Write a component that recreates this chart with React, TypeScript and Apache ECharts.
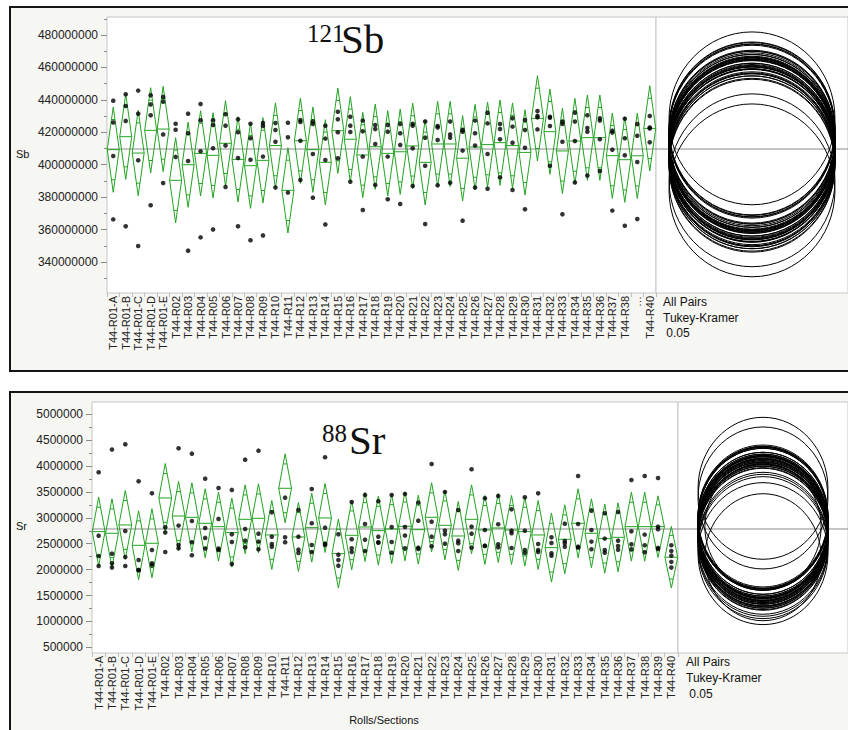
import React, { useEffect, useRef } from "react";
import * as echarts from "echarts";

// Rolls / sections on the x axis
const categories = [
  "T44-R01-A", "T44-R01-B", "T44-R01-C", "T44-R01-D", "T44-R01-E",
  "T44-R02", "T44-R03", "T44-R04", "T44-R05", "T44-R06", "T44-R07", "T44-R08", "T44-R09", "T44-R10",
  "T44-R11", "T44-R12", "T44-R13", "T44-R14", "T44-R15", "T44-R16", "T44-R17", "T44-R18", "T44-R19",
  "T44-R20", "T44-R21", "T44-R22", "T44-R23", "T44-R24", "T44-R25", "T44-R26", "T44-R27", "T44-R28",
  "T44-R29", "T44-R30", "T44-R31", "T44-R32", "T44-R33", "T44-R34", "T44-R35", "T44-R36", "T44-R37",
  "T44-R38", "T44-R39", "T44-R40",
];

// 121Sb, counts in millions
const sbMeans = [
  409.3, 417.3, 407.2, 421.2, 422.0, 390.4, 400.0, 407.0, 405.8, 413.2, 403.3, 399.4, 402.7, 411.8,
  384.2, 414.8, 409.3, 401.5, 421.0, 415.7, 406.0, 411.1, 407.0, 408.0, 411.6, 401.5, 412.8, 412.8,
  404.0, 410.9, 412.4, 413.6, 411.8, 407.6, 428.6, 420.4, 408.5, 414.6, 416.7, 416.7, 405.6, 403.1,
  405.5, 422.4,
];
const sbPoints = [
  [439.5, 426.1, 405.4, 366.3], [443.4, 436.2, 427.0, 362.0], [445.7, 431.5, 402.7, 349.9],
  [442.8, 437.2, 430.5, 375.0], [441.8, 438.9, 418.7, 388.7], [425.3, 421.6, 404.8, 309.9],
  [431.5, 419.4, 402.3, 347.0], [437.4, 427.4, 408.3, 355.2], [427.4, 424.5, 410.1, 360.1],
  [431.1, 424.1, 411.8, 386.3], [428.0, 420.0, 404.1, 362.0], [425.3, 416.3, 403.1, 353.4],
  [425.7, 423.9, 405.0, 356.4], [425.7, 421.4, 414.2, 385.9], [425.9, 416.9, 382.8, 311.0],
  [427.6, 426.4, 414.8, 390.6], [426.6, 425.1, 406.6, 379.7], [424.1, 416.1, 402.9, 363.2],
  [432.7, 428.0, 420.0, 404.0], [429.6, 424.1, 420.2, 389.5], [427.2, 420.6, 405.0, 372.1],
  [424.5, 422.0, 412.8, 387.5], [424.5, 420.4, 405.0, 378.7], [425.1, 419.4, 412.2, 375.8],
  [425.3, 424.1, 410.1, 386.9], [426.6, 416.7, 399.4, 363.4], [423.9, 423.0, 415.2, 387.3],
  [426.6, 418.7, 416.7, 388.9], [421.4, 420.4, 408.7, 365.5], [427.2, 419.4, 411.8, 385.9],
  [432.1, 425.5, 406.6, 385.2], [425.1, 422.0, 415.7, 392.2], [428.6, 423.5, 413.6, 384.4],
  [427.6, 421.4, 410.5, 372.5], [433.1, 430.1, 429.2, 421.8], [429.6, 429.0, 423.9, 399.4],
  [426.6, 425.1, 414.2, 369.4], [432.1, 426.6, 414.6, 389.1], [430.5, 422.6, 420.4, 393.3],
  [428.6, 427.2, 415.7, 396.1], [421.0, 419.8, 409.3, 371.7], [428.4, 416.3, 405.8, 362.4],
  [425.1, 417.9, 401.7, 366.5], [430.1, 422.9, 422.4, 413.8],
];
const sbGrandMean = 409.7;
const sbTicks = [340, 360, 380, 400, 420, 440, 460, 480];
const sbMinorTicks = [330, 350, 370, 390, 410, 430, 450, 470, 490];

// 88Sr, counts in millions
const srMeans = [
  2.734, 2.702, 2.863, 2.470, 2.509, 3.384, 3.036, 3.011, 2.895, 2.830, 2.715, 2.972, 2.991, 2.670,
  3.571, 2.631, 2.811, 2.998, 2.309, 2.663, 2.824, 2.753, 2.785, 2.837, 2.772, 3.011, 2.856, 2.650,
  2.972, 2.766, 2.805, 2.766, 2.734, 2.670, 2.425, 2.586, 2.895, 2.702, 2.599, 2.624, 2.830, 2.830,
  2.830, 2.240,
];
const srPoints = [
  [3.880, 2.656, 2.264, 2.071], [4.318, 2.309, 2.122, 2.039], [4.420, 2.747, 2.245, 2.071],
  [3.706, 2.187, 1.995, 1.987], [3.474, 2.380, 2.122, 2.083], [2.818, 2.715, 2.341, 5.660],
  [4.343, 2.850, 2.476, 2.412], [4.240, 2.940, 2.528, 2.277], [3.757, 2.805, 2.612, 2.406],
  [3.577, 2.979, 2.406, 2.380], [3.539, 2.682, 2.534, 2.109], [4.124, 2.785, 2.560, 2.431],
  [4.298, 2.695, 2.541, 2.393], [3.107, 2.637, 2.496, 2.440], [3.390, 2.624, 2.528, 5.740],
  [3.152, 2.637, 2.386, 2.322], [3.558, 2.895, 2.476, 2.341], [4.170, 2.811, 2.502, 2.476],
  [2.682, 2.289, 2.187, 2.077], [3.307, 2.586, 2.412, 2.341], [3.442, 2.882, 2.579, 2.360],
  [3.320, 2.637, 2.528, 2.520], [3.442, 2.824, 2.534, 2.328], [3.461, 2.824, 2.657, 2.412],
  [3.294, 2.946, 2.425, 2.399], [4.041, 2.927, 2.637, 2.451], [3.500, 2.753, 2.682, 2.502],
  [3.152, 2.560, 2.509, 2.360], [3.938, 2.830, 2.695, 2.425], [3.378, 2.766, 2.463, 2.457],
  [3.423, 2.876, 2.490, 2.431], [3.165, 2.753, 2.702, 2.418], [3.397, 2.753, 2.380, 2.322],
  [3.474, 2.496, 2.380, 2.341], [2.624, 2.515, 2.315, 2.270], [2.888, 2.554, 2.509, 2.444],
  [3.809, 2.882, 2.444, 2.425], [3.139, 2.766, 2.541, 2.393], [3.088, 2.599, 2.380, 2.328],
  [3.114, 2.560, 2.457, 2.386], [3.732, 2.740, 2.489, 2.393], [3.809, 2.676, 2.470, 2.335],
  [3.770, 2.830, 2.780, 2.420, 2.400], [2.470, 2.360, 2.270, 2.150, 2.040],
];
const srGrandMean = 2.785;
const srTicks = [0.5, 1, 1.5, 2, 2.5, 3, 3.5, 4, 4.5, 5];
const srMinorTicks = [0.75, 1.25, 1.75, 2.25, 2.75, 3.25, 3.75, 4.25, 4.75];

const testLines = ["All Pairs", "Tukey-Kramer", " 0.05"];

const MILLION = 1e6;
const GREEN = "#22a322";
const SANS = '"Liberation Sans", Arial, Helvetica, sans-serif';
const SERIF = '"Liberation Serif", "Times New Roman", serif';

type Panel = {
  means: number[];
  points: number[][];
  grandMean: number;
  ticks: number[];
  minorTicks: number[];
  yMin: number;
  yMax: number;
  ciScale: number; // pooled CI half-width for n = 1 (millions)
  circleScale: number; // Tukey-Kramer comparison radius for n = 1 (millions)
  circleAspect: number;
  main: { left: number; top: number; width: number; height: number };
  circles: { left: number; top: number; width: number; height: number };
  labelFmt: (v: string) => string;
};

const panels: Panel[] = [
  {
    means: sbMeans,
    points: sbPoints,
    grandMean: sbGrandMean,
    ticks: sbTicks,
    minorTicks: sbMinorTicks,
    yMin: 320.9,
    yMax: 491.1,
    ciScale: 52.6,
    circleScale: 106.6,
    circleAspect: 0.96,
    main: { left: 107, top: 17, width: 549, height: 276 },
    circles: { left: 656, top: 17, width: 198, height: 276 },
    labelFmt: (v) => (v === "T44-R39" ? "…" : v),
  },
  {
    means: srMeans,
    points: srPoints,
    grandMean: srGrandMean,
    ticks: srTicks,
    minorTicks: srMinorTicks,
    yMin: 0.39,
    yMax: 5.2375,
    ciScale: 1.332,
    circleScale: 2.742,
    circleAspect: 0.915,
    main: { left: 92, top: 402, width: 586, height: 251 },
    circles: { left: 678, top: 402, width: 174, height: 251 },
    labelFmt: (v) => v,
  },
];

function buildOption() {
  const grid: any[] = [];
  const xAxis: any[] = [];
  const yAxis: any[] = [];
  const series: any[] = [];

  panels.forEach((p) => {
    const gMain = grid.length;
    grid.push({ ...p.main, show: true, backgroundColor: "#ffffff", borderColor: "#c6c6c6", borderWidth: 1 });
    const gCirc = grid.length;
    grid.push({ ...p.circles, show: true, backgroundColor: "#ffffff", borderColor: "#c6c6c6", borderWidth: 1 });

    const xMain = xAxis.length;
    xAxis.push({
      type: "category",
      gridIndex: gMain,
      data: categories,
      boundaryGap: true,
      axisLine: { show: false },
      axisTick: { show: true, length: 4, lineStyle: { color: "#bcbcbc", width: 1 } },
      axisLabel: {
        interval: 0,
        rotate: 90,
        margin: 3,
        fontSize: 11,
        fontFamily: SANS,
        color: "#222",
        formatter: p.labelFmt,
      },
      splitLine: { show: false },
    });
    const xCirc = xAxis.length;
    xAxis.push({ type: "value", gridIndex: gCirc, min: 0, max: 1, show: false });

    const yRange = { min: p.yMin * MILLION, max: p.yMax * MILLION };
    const yMain = yAxis.length;
    yAxis.push({
      type: "value",
      gridIndex: gMain,
      position: "left",
      ...yRange,
      axisLine: { show: false },
      splitLine: { show: false },
      axisTick: {
        show: true,
        length: 6,
        customValues: p.ticks.map((t) => t * MILLION),
        lineStyle: { color: "#8c8c8c" },
      },
      axisLabel: {
        customValues: p.ticks.map((t) => t * MILLION),
        formatter: (v: number) => String(Math.round(v)),
        fontSize: 12,
        fontFamily: SANS,
        color: "#222",
        margin: 9,
      },
    });
    yAxis.push({
      type: "value",
      gridIndex: gMain,
      position: "left",
      ...yRange,
      axisLine: { show: false },
      splitLine: { show: false },
      axisLabel: { show: false },
      axisTick: {
        show: true,
        length: 3,
        customValues: p.minorTicks.map((t) => t * MILLION),
        lineStyle: { color: "#8c8c8c" },
      },
    });
    const yCirc = yAxis.length;
    yAxis.push({ type: "value", gridIndex: gCirc, ...yRange, show: false });

    const counts = p.points.map((pts) => pts.length);

    // grand mean reference line across both plot frames
    [
      [xMain, yMain],
      [xCirc, yCirc],
    ].forEach(([xi, yi]) => {
      series.push({
        type: "custom",
        xAxisIndex: xi,
        yAxisIndex: yi,
        silent: true,
        z: 1,
        data: [[0, p.grandMean * MILLION]],
        renderItem: (params: any, api: any) => {
          const cs = params.coordSys;
          const y = api.coord([0, api.value(1)])[1];
          return {
            type: "line",
            shape: { x1: cs.x, y1: y, x2: cs.x + cs.width, y2: y },
            style: { stroke: "#8a8a8a", lineWidth: 1 },
          };
        },
      });
    });

    // means diamonds with overlap marks
    series.push({
      type: "custom",
      xAxisIndex: xMain,
      yAxisIndex: yMain,
      silent: true,
      z: 2,
      data: p.means.map((m, i) => [i, m * MILLION, (p.ciScale / Math.sqrt(counts[i])) * MILLION]),
      renderItem: (_params: any, api: any) => {
        const i = api.value(0);
        const m = api.value(1);
        const h = api.value(2);
        const c = api.coord([i, m]);
        const top = api.coord([i, m + h])[1];
        const bot = api.coord([i, m - h])[1];
        const hw = api.size([1, 0])[0] * 0.48;
        const d = (c[1] - top) / Math.SQRT2;
        const ow = hw * (1 - 1 / Math.SQRT2);
        const st = { stroke: GREEN, lineWidth: 1, fill: "none" };
        return {
          type: "group",
          children: [
            {
              type: "polygon",
              shape: { points: [[c[0], top], [c[0] + hw, c[1]], [c[0], bot], [c[0] - hw, c[1]]] },
              style: st,
            },
            { type: "line", shape: { x1: c[0] - hw, y1: c[1], x2: c[0] + hw, y2: c[1] }, style: st },
            { type: "line", shape: { x1: c[0] - ow, y1: c[1] - d, x2: c[0] + ow, y2: c[1] - d }, style: st },
            { type: "line", shape: { x1: c[0] - ow, y1: c[1] + d, x2: c[0] + ow, y2: c[1] + d }, style: st },
          ],
        };
      },
    });

    // individual measurements
    const pts: number[][] = [];
    p.points.forEach((arr, i) => arr.forEach((v) => pts.push([i, v * MILLION])));
    series.push({
      type: "scatter",
      xAxisIndex: xMain,
      yAxisIndex: yMain,
      clip: true,
      silent: true,
      z: 3,
      symbol: "circle",
      symbolSize: 4.6,
      itemStyle: { color: "#000" },
      data: pts,
    });

    // comparison circles
    series.push({
      type: "custom",
      xAxisIndex: xCirc,
      yAxisIndex: yCirc,
      silent: true,
      z: 2,
      data: p.means.map((m, i) => [m * MILLION, (p.circleScale / Math.sqrt(counts[i])) * MILLION]),
      renderItem: (_params: any, api: any) => {
        const m = api.value(0);
        const r = api.value(1);
        const c = api.coord([0.5, m]);
        const ry = c[1] - api.coord([0.5, m + r])[1];
        return {
          type: "ellipse",
          shape: { cx: c[0], cy: c[1], rx: ry * p.circleAspect, ry },
          style: { fill: "none", stroke: "#000", lineWidth: 1 },
        };
      },
    });
  });

  const txt = (x: number, y: number, text: string, font: string, align = "left") => ({
    type: "text",
    x,
    y,
    z: 20,
    silent: true,
    style: { text, font, fill: "#111", textAlign: align, textVerticalAlign: "middle" },
  });

  const graphic: any[] = [
    {
      type: "rect",
      z: -10,
      silent: true,
      shape: { x: 10, y: 7, width: 850, height: 364 },
      style: { fill: "#f6f6f2", stroke: "#151515", lineWidth: 2 },
    },
    {
      type: "rect",
      z: -10,
      silent: true,
      shape: { x: 10, y: 392, width: 850, height: 360 },
      style: { fill: "#f6f6f2", stroke: "#151515", lineWidth: 2 },
    },
    txt(16, 154, "Sb", `11px ${SANS}`),
    txt(16, 526, "Sr", `11px ${SANS}`),
    txt(307, 33.6, "121", `25px ${SERIF}`),
    txt(341, 39.2, "Sb", `41px ${SERIF}`),
    txt(322, 433.3, "88", `25px ${SERIF}`),
    txt(349, 440.2, "Sr", `41px ${SERIF}`),
    ...testLines.map((t, i) => txt(663, 301.7 + i * 15.8, t, `12px ${SANS}`)),
    ...testLines.map((t, i) => txt(686, 661.7 + i * 16.2, t, `12px ${SANS}`)),
    txt(384, 720, "Rolls/Sections", `11px ${SANS}`, "center"),
  ];

  return {
    animation: false,
    backgroundColor: "#ffffff",
    textStyle: { fontFamily: SANS },
    grid,
    xAxis,
    yAxis,
    series,
    graphic,
  };
}

export default function App() {
  const ref = useRef<HTMLDivElement>(null);
  useEffect(() => {
    if (!ref.current) return;
    const chart = echarts.init(ref.current, undefined, { renderer: "svg" });
    chart.setOption(buildOption() as any);
    return () => chart.dispose();
  }, []);
  return (
    <div
      ref={ref}
      style={{ position: "fixed", left: 0, top: 0, width: 848, height: 730, overflow: "hidden" }}
    />
  );
}
